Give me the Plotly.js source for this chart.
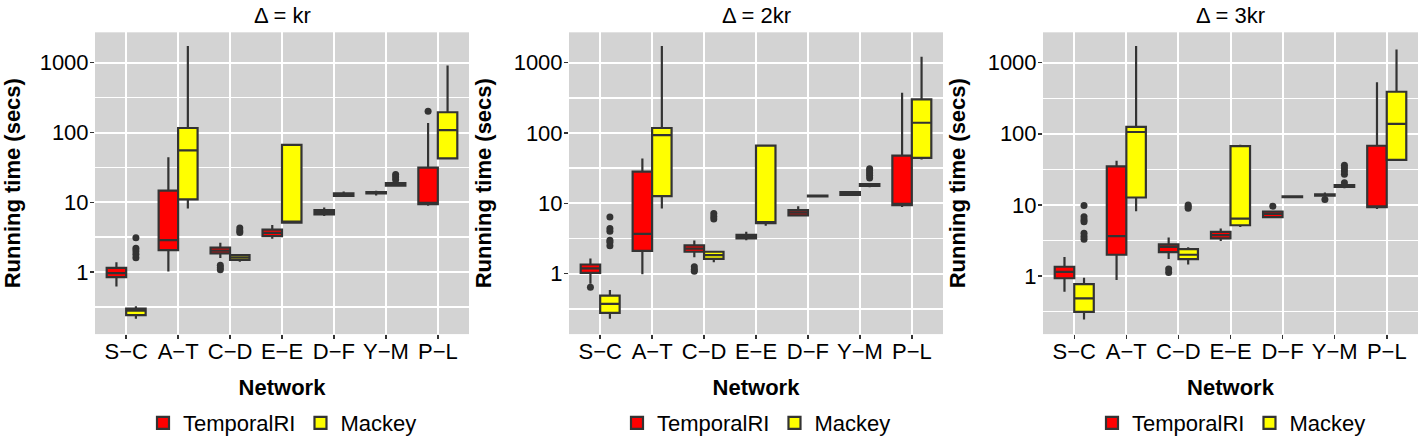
<!DOCTYPE html>
<html>
<head>
<meta charset="utf-8">
<script src="https://cdn.plot.ly/plotly-3.0.1.min.js"></script>
<style>html,body{margin:0;padding:0;background:#fff;}#chart{width:1424px;height:444px;}</style>
</head>
<body>
<div id="chart"></div>
<script>
// ---------- DATA ----------
const networks = ['S\u2212C','A\u2212T','C\u2212D','E\u2212E','D\u2212F','Y\u2212M','P\u2212L'];
const panelTitles = ['\u0394 = kr', '\u0394 = 2kr', '\u0394 = 3kr'];
const methods = ['TemporalRI', 'Mackey'];
const yTickVals = [1, 10, 100, 1000];
const yTickText = ['1', '10', '100', '1000'];

// Δ = kr : TemporalRI
const kr_T_lf  = [0.62, 1.02, 1.59, 3.00, 6.37, 12.5, 8.9];
const kr_T_q1  = [0.85, 2.06, 1.85, 3.27, 6.71, 13.4, 9.38];
const kr_T_med = [0.97, 2.87, 2.03, 3.64, 7.24, 13.7, 9.8];
const kr_T_q3  = [1.15, 14.7, 2.24, 4.05, 7.73, 14.0, 31.3];
const kr_T_uf  = [1.38, 44.2, 2.63, 4.71, 8.42, 14.6, 137];
const kr_T_out = [[], [], [1.25, 1.15, 1.08], [], [], [], [201]];
// Δ = kr : Mackey
const kr_M_lf  = [0.215, 8.15, 1.41, 5.0, 12.3, 17.3, 41];
const kr_M_q1  = [0.242, 11.0, 1.50, 5.13, 12.4, 17.3, 42.7];
const kr_M_med = [0.281, 55.3, 1.62, 5.3, 12.8, 18.1, 108];
const kr_M_q3  = [0.300, 116, 1.75, 66.4, 13.4, 18.9, 195];
const kr_M_uf  = [0.323, 1730, 1.75, 66.4, 14.3, 18.9, 908];
const kr_M_out = [[3.1, 2.2, 2.0, 1.8, 1.6], [], [4.3, 3.9, 3.7], [], [], [25, 23, 21], []];

// Δ = 2kr : TemporalRI
const kr2_T_lf  = [0.72, 0.98, 1.71, 3.00, 6.48, 13.0, 8.9];
const kr2_T_q1  = [1.03, 2.11, 2.05, 3.17, 6.76, 13.2, 9.41];
const kr2_T_med = [1.19, 3.68, 2.27, 3.38, 7.36, 13.8, 9.8];
const kr2_T_q3  = [1.35, 28.3, 2.53, 3.56, 8.02, 14.4, 47.7];
const kr2_T_uf  = [1.65, 43.3, 2.97, 3.96, 9.12, 14.8, 374];
const kr2_T_out = [[0.64], [], [1.25, 1.15, 1.08], [], [], [], []];
// Δ = 2kr : Mackey
const kr2_M_lf  = [0.229, 8.46, 1.45, 4.8, 12.5, 16.9, 42];
const kr2_M_q1  = [0.278, 12.7, 1.62, 5.23, 12.6, 17.7, 44.2];
const kr2_M_med = [0.371, 93.4, 1.84, 5.3, 12.8, 18.2, 140];
const kr2_M_q3  = [0.489, 118, 2.05, 66.4, 12.9, 18.8, 302];
const kr2_M_uf  = [0.586, 1722, 2.11, 66.4, 13.0, 18.8, 1211];
const kr2_M_out = [[6.4, 4.4, 4.0, 3.0, 2.8, 2.5], [], [7.2, 6.5, 6.0], [], [], [31, 29, 27, 25, 23], []];

// Δ = 3kr : TemporalRI
const kr3_T_lf  = [0.60, 0.88, 1.73, 3.11, 6.53, 12.7, 8.78];
const kr3_T_q1  = [0.93, 1.99, 2.17, 3.38, 6.73, 13.5, 9.26];
const kr3_T_med = [1.14, 3.64, 2.57, 3.76, 7.49, 13.8, 9.5];
const kr3_T_q3  = [1.35, 34.8, 2.79, 4.18, 8.07, 14.1, 67.9];
const kr3_T_uf  = [1.85, 41.7, 3.49, 4.65, 8.32, 14.9, 530];
const kr3_T_out = [[], [], [1.25, 1.12], [], [9.6], [11.9], []];
// Δ = 3kr : Mackey
const kr3_M_lf  = [0.244, 8.15, 1.45, 4.9, 12.6, 17.1, 41.7];
const kr3_M_q1  = [0.312, 12.7, 1.73, 5.17, 12.8, 17.9, 43];
const kr3_M_med = [0.486, 106, 1.99, 6.39, 13.0, 18.4, 138];
const kr3_M_q3  = [0.767, 125, 2.38, 67.1, 13.2, 19.0, 390];
const kr3_M_uf  = [0.948, 1718, 2.54, 70, 13.4, 19.0, 1530];
const kr3_M_out = [[9.8, 6.8, 6.2, 5.8, 4.0, 3.6, 3.3], [], [10, 9.5, 9.0], [], [], [36, 33, 30, 27, 20.5], []];

// ---------- STYLE ----------
const FONT = 'Liberation Sans, Arial, sans-serif';
const fills = ['#FF0000', '#FFFF00'];
const edge = '#333333';
const W = 1424, H = 444;

const panels = [
  {T: [kr_T_lf, kr_T_q1, kr_T_med, kr_T_q3, kr_T_uf, kr_T_out],
   M: [kr_M_lf, kr_M_q1, kr_M_med, kr_M_q3, kr_M_uf, kr_M_out]},
  {T: [kr2_T_lf, kr2_T_q1, kr2_T_med, kr2_T_q3, kr2_T_uf, kr2_T_out],
   M: [kr2_M_lf, kr2_M_q1, kr2_M_med, kr2_M_q3, kr2_M_uf, kr2_M_out]},
  {T: [kr3_T_lf, kr3_T_q1, kr3_T_med, kr3_T_q3, kr3_T_uf, kr3_T_out],
   M: [kr3_M_lf, kr3_M_q1, kr3_M_med, kr3_M_q3, kr3_M_uf, kr3_M_out]}
];

const xDomPx = [[95, 469], [569, 943], [1043, 1418]];
const yRanges = [[-0.888, 3.435], [-0.859, 3.432], [-0.817, 3.427]];
const yDom = [1 - 341 / H, 1 - 33 / H];
const legendX = [143, 617, 1092];

const traces = [];
const layout = {
  width: W, height: H,
  margin: {l: 0, r: 0, t: 0, b: 0},
  paper_bgcolor: '#FFFFFF',
  plot_bgcolor: '#D3D3D3',
  boxmode: 'group',
  boxgap: 0.25,
  boxgroupgap: 0,
  font: {family: FONT, size: 22, color: '#000'},
  annotations: [],
  showlegend: true
};

panels.forEach((p, i) => {
  const sfx = i === 0 ? '' : String(i + 1);
  const legName = 'legend' + sfx;
  [p.T, p.M].forEach((s, k) => {
    // Plotly needs non-empty rows to recognise a 2D sample array; null is skipped
    const samples = s[5].map(row => (row.length ? row : [null]));
    traces.push({
      type: 'box',
      name: methods[k],
      orientation: 'v',
      xaxis: 'x' + sfx, yaxis: 'y' + sfx,
      x: networks,
      y: samples,
      lowerfence: s[0], q1: s[1], median: s[2], q3: s[3], upperfence: s[4],
      boxpoints: 'outliers',
      jitter: 0, pointpos: 0,
      whiskerwidth: 0,
      fillcolor: fills[k],
      line: {color: edge, width: 2.2},
      marker: {color: edge, size: 7, line: {width: 0}},
      alignmentgroup: 'panel' + i,
      offsetgroup: 'p' + i + 'm' + k,
      legend: legName,
      legendgroup: 'g' + i + k,
      showlegend: true,
      hoverinfo: 'skip'
    });
  });
  layout['xaxis' + sfx] = {
    domain: [xDomPx[i][0] / W, xDomPx[i][1] / W],
    anchor: 'y' + sfx,
    type: 'category',
    categoryorder: 'array', categoryarray: networks,
    range: [-0.6, networks.length - 0.4],
    showgrid: true, gridcolor: '#FFFFFF', gridwidth: 2,
    zeroline: false, showline: false,
    ticks: 'outside', ticklen: 4, tickwidth: 1.5, tickcolor: edge,
    ticklabelstandoff: -6,
    tickfont: {family: FONT, size: 22, color: '#000'},
    title: {text: 'Network', font: {family: FONT, size: 22, color: '#000', weight: 'bold'}, standoff: 16},
    fixedrange: true
  };
  layout['yaxis' + sfx] = {
    domain: yDom,
    anchor: 'x' + sfx,
    type: 'log',
    range: yRanges[i],
    tickmode: 'array', tickvals: yTickVals, ticktext: yTickText,
    showgrid: true, gridcolor: '#FFFFFF', gridwidth: 2,
    minor: {tickmode: 'array', tickvals: [0.316, 3.16, 31.6, 316], showgrid: true, gridcolor: '#FFFFFF', gridwidth: 1.5, ticks: ''},
    zeroline: false, showline: false,
    ticks: 'outside', ticklen: 4, tickwidth: 1.5, tickcolor: edge,
    ticklabelstandoff: -3,
    tickfont: {family: FONT, size: 22, color: '#000'},
    title: {text: 'Running time (secs)', font: {family: FONT, size: 22, color: '#000', weight: 'bold'}, standoff: 15},
    fixedrange: true
  };
  layout[legName] = {
    orientation: 'h',
    x: legendX[i] / W, xanchor: 'left',
    y: (H - 432) / H, yanchor: 'middle',
    bgcolor: 'rgba(0,0,0,0)',
    font: {family: FONT, size: 22, color: '#000'},
    itemclick: false, itemdoubleclick: false
  };
  layout.annotations.push({
    text: panelTitles[i],
    xref: 'paper', yref: 'paper',
    x: (xDomPx[i][0] + xDomPx[i][1]) / 2 / W,
    y: (H - 16) / H,
    xanchor: 'center', yanchor: 'middle',
    showarrow: false,
    font: {family: FONT, size: 22, color: '#000'}
  });
});

Plotly.newPlot('chart', traces, layout, {displayModeBar: false, staticPlot: true});
</script>
</body>
</html>
